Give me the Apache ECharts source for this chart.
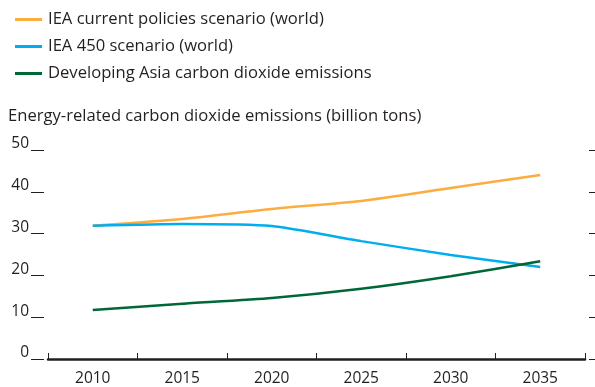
<!DOCTYPE html>
<html><head><meta charset="utf-8">
<script src="https://cdn.jsdelivr.net/npm/echarts@6/dist/echarts.min.js"></script>
<style>html,body{margin:0;padding:0;background:#fff}#c{width:595px;height:387px}</style>
</head><body><div id="c"></div>
<script>
const years = ['2010','2015','2020','2025','2030','2035'];
const currentPolicies = [31.9, 33.5, 35.9, 37.8, 40.9, 44.0];
const scenario450 = [31.9, 32.3, 31.8, 28.2, 24.9, 22.0];
const developingAsia = [11.7, 13.2, 14.6, 16.8, 19.8, 23.4];
const yTicks = {min: 0, max: 50, interval: 10};
const names = ['IEA current policies scenario (world)', 'IEA 450 scenario (world)', 'Developing Asia carbon dioxide emissions'];
const axisTitle = 'Energy-related carbon dioxide emissions (billion tons)';

const FONT = 'Open Sans';
const TXT = '#231f20';
const chart = echarts.init(document.getElementById('c'), null, {renderer: 'canvas'});
chart.setOption({
  animation: false,
  title: {text: axisTitle, left: 3, top: 103, textStyle: {fontFamily: FONT, fontSize: 16.6, fontWeight: 'normal', color: TXT}},
  legend: {
    orient: 'vertical', left: 10, top: 6, itemWidth: 27, itemHeight: 3, itemGap: 10,
    icon: 'rect',
    textStyle: {fontFamily: FONT, fontSize: 16.6, color: TXT, lineHeight: 16, padding: [0, 0, 0, 1]},
    data: names
  },
  grid: {left: 48, right: 10, top: 150, bottom: 26},
  xAxis: {
    type: 'category', data: years, boundaryGap: true,
    axisLine: {lineStyle: {color: TXT, width: 2.5}},
    axisTick: {show: true, inside: true, length: 6, interval: 0, lineStyle: {color: TXT, width: 1}},
    axisLabel: {fontFamily: FONT, fontSize: 15.5, color: TXT, margin: 12}
  },
  yAxis: [{
    type: 'value', position: 'left', offset: 4, ...yTicks,
    axisLine: {show: false}, splitLine: {show: false},
    axisTick: {show: true, length: 13, lineStyle: {color: TXT, width: 1}},
    axisLabel: {fontFamily: FONT, fontSize: 15.5, color: TXT, margin: 15, verticalAlign: 'bottom', lineHeight: 12}
  }, {
    type: 'value', position: 'right', offset: 4, ...yTicks,
    axisLine: {show: false}, splitLine: {show: false},
    axisTick: {show: true, length: 6, lineStyle: {color: TXT, width: 1}},
    axisLabel: {show: false}
  }],
  series: [
    {name: names[0], type: 'line', data: currentPolicies, smooth: 0.2, showSymbol: false, lineStyle: {width: 2.5, color: '#FBAD3F'}, itemStyle: {color: '#FBAD3F'}},
    {name: names[1], type: 'line', data: scenario450, smooth: 0.2, showSymbol: false, lineStyle: {width: 2.5, color: '#00AEEF'}, itemStyle: {color: '#00AEEF'}},
    {name: names[2], type: 'line', data: developingAsia, smooth: 0.2, showSymbol: false, lineStyle: {width: 2.5, color: '#006838'}, itemStyle: {color: '#006838'}}
  ]
});
</script></body></html>
